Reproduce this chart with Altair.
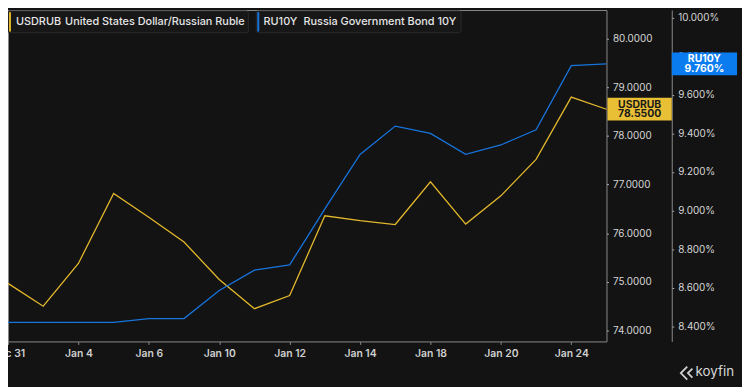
import altair as alt
import pandas as pd

# ---------------- data ----------------
dates = ["Dec 31", "Jan 3", "Jan 4", "Jan 5", "Jan 6", "Jan 7", "Jan 10", "Jan 11",
         "Jan 12", "Jan 13", "Jan 14", "Jan 17", "Jan 18", "Jan 19", "Jan 20",
         "Jan 21", "Jan 24", "Jan 25"]
tick_labels = ["Dec 31", "Jan 4", "Jan 6", "Jan 10", "Jan 12", "Jan 14", "Jan 18", "Jan 20", "Jan 24"]
usdrub = [74.97, 74.50, 75.38, 76.82, 76.33, 75.82, 75.05, 74.45, 74.72,
          76.36, 76.26, 76.18, 77.06, 76.19, 76.77, 77.52, 78.80, 78.55]
ru10y = [8.420, 8.420, 8.420, 8.420, 8.440, 8.440, 8.586, 8.691, 8.718,
         9.009, 9.291, 9.438, 9.400, 9.291, 9.340, 9.419, 9.751, 9.760]
usd_ticks = [74, 75, 76, 77, 78, 79, 80]
ru_ticks = [8.4, 8.6, 8.8, 9.0, 9.2, 9.4, 9.6, 9.8, 10.0]
tickers = ["USDRUB", "RU10Y"]
names = ["United States Dollar/Russian Ruble", "Russia Government Bond 10Y"]
brand = "koyfin"

df = pd.DataFrame({"date": dates, "usdrub": usdrub, "ru10y": ru10y})

# ---------------- style ----------------
FONT = "Inter"
BG = "#131313"
FRAME = "#8a8a8a"
YELLOW = "#e3b82c"
BLUE = "#1774dd"
BADGE_Y = "#e9bf36"
BADGE_B = "#0b7cef"
W, H = 605, 335
USD_DOM = [73.777, 80.589]
RU_DOM = [8.3215, 10.0395]
BADGE_HALF_PX = 11.5

x_enc = alt.X(
    "date:O", sort=dates,
    scale=alt.Scale(type="point", padding=0),
    axis=alt.Axis(values=tick_labels, title=None, labelAngle=0, domain=False,
                  tickSize=3, tickColor=FRAME, labelColor="#cfcfcf", labelFont=FONT,
                  labelFontSize=10.5, labelFontWeight=600, labelPadding=4,
                  grid=False, labelOverlap=False, zindex=0),
)

usd_scale = alt.Scale(domain=USD_DOM, nice=False, zero=False)
ru_scale = alt.Scale(domain=RU_DOM, nice=False, zero=False)

usd_axis = alt.Axis(orient="right", values=usd_ticks, format=".4f", title=None,
                    domain=False, tickSize=2, tickColor="#b0b0b0",
                    labelColor="#d6d6d6", labelFont=FONT, labelFontSize=10,
                    labelPadding=4, grid=False, zindex=0)
ru_axis = alt.Axis(orient="right", offset=66, values=ru_ticks,
                   labelExpr="format(datum.value, '.3f') + '%'", title=None,
                   domain=True, domainColor=FRAME, tickSize=2, tickColor="#b0b0b0",
                   labelColor={"condition": {"test": "abs(datum.value - 9.76) < 0.1",
                                             "value": "#4f9af2"},
                               "value": "#d6d6d6"},
                   labelFont=FONT, labelFontSize=10,
                   labelPadding=4, grid=False, zindex=0)

base = alt.Chart(df)
last = base.transform_filter(alt.datum.date == dates[-1])


def badge_layers(field, dom, ticker, fmt, fill, tcolor, x0, x1):
    half = BADGE_HALF_PX * (dom[1] - dom[0]) / H
    cx = (x0 + x1) / 2
    rect = last.transform_calculate(
        top=f"datum.{field} + {half}", bot=f"datum.{field} - {half}"
    ).mark_rect(fill=fill, opacity=1).encode(
        x=alt.value(x0), x2=alt.value(x1),
        y=alt.Y("top:Q", title=None), y2="bot:Q")
    t1 = last.mark_text(font=FONT, fontSize=10.5, fontWeight="bold", color=tcolor,
                        align="center", baseline="middle", dy=-4.7).encode(
        x=alt.value(cx), y=alt.Y(f"{field}:Q", title=None), text=alt.value(ticker))
    t2 = last.transform_calculate(lab=fmt).mark_text(
        font=FONT, fontSize=10.5, fontWeight="bold", color=tcolor,
        align="center", baseline="middle", dy=5).encode(
        x=alt.value(cx), y=alt.Y(f"{field}:Q", title=None), text="lab:N")
    return [rect, t1, t2]


# USDRUB group
usd_line = base.mark_line(color=YELLOW, strokeWidth=1.3).encode(
    x=x_enc, y=alt.Y("usdrub:Q", scale=usd_scale, axis=usd_axis, title=None))
usd_group = alt.layer(usd_line, *badge_layers(
    "usdrub", USD_DOM, tickers[0], "format(datum.usdrub, '.4f')",
    BADGE_Y, "#1a1a1a", 606, 671))

# RU10Y group
ru_line = base.mark_line(color=BLUE, strokeWidth=1.3).encode(
    x=x_enc, y=alt.Y("ru10y:Q", scale=ru_scale, axis=ru_axis, title=None))
ru_group = alt.layer(ru_line, *badge_layers(
    "ru10y", RU_DOM, tickers[1], "format(datum.ru10y, '.3f') + '%'",
    BADGE_B, "#ffffff", 671, 737))

# legend boxes (decoration)
one = alt.Chart(pd.DataFrame({"k": [0]}))


def legend_box(x0, x1, color, ticker, name, tx, nx):
    box = one.mark_rect(fill="#171717", stroke="#2a2a2a", strokeWidth=1, cornerRadius=2).encode(
        x=alt.value(x0), x2=alt.value(x1), y=alt.value(1), y2=alt.value(23))
    bar = one.mark_rect(fill=color, cornerRadius=1).encode(
        x=alt.value(x0 + 1), x2=alt.value(x0 + 3), y=alt.value(2), y2=alt.value(22))
    t1 = one.mark_text(font=FONT, fontSize=11, fontWeight=500, color="#e6e6e6",
                       align="left", baseline="middle").encode(
        x=alt.value(tx), y=alt.value(12.5), text=alt.value(ticker))
    t2 = one.mark_text(font=FONT, fontSize=11, fontWeight=500, color="#e6e6e6",
                       align="left", baseline="middle").encode(
        x=alt.value(nx), y=alt.value(12.5), text=alt.value(name))
    return [box, bar, t1, t2]


leg = legend_box(0, 243, YELLOW, tickers[0], names[0], 8, 57.7) + \
      legend_box(251, 458, BLUE, tickers[1], names[1], 258.3, 298.7)

logo_icon = one.mark_point(
    shape="M0.1,-1 L-0.9,0 L0.1,1 M0.9,-0.7 L0.2,0 L0.9,0.7", size=169,
    filled=False, color="#d0d0d0", strokeWidth=1.8, opacity=1
).encode(x=alt.value(686), y=alt.value(367))
logo_text = one.mark_text(font=FONT, fontSize=13.5, fontWeight=400, color="#d8d8d8",
                          align="left", baseline="middle").encode(
    x=alt.value(695), y=alt.value(366), text=alt.value(brand))

chart = alt.layer(
    alt.layer(usd_group, ru_group).resolve_scale(y="independent"),
    *leg, logo_icon, logo_text
).properties(
    width=W, height=H,
    autosize=alt.AutoSizeParams(type="none"),
    padding={"left": 0, "top": 0, "right": 137, "bottom": 44},
    background=BG,
).configure_view(stroke=FRAME, strokeWidth=1).configure_axis(grid=False)

chart.save("out.html", embed_options={"renderer": "svg", "actions": False})
